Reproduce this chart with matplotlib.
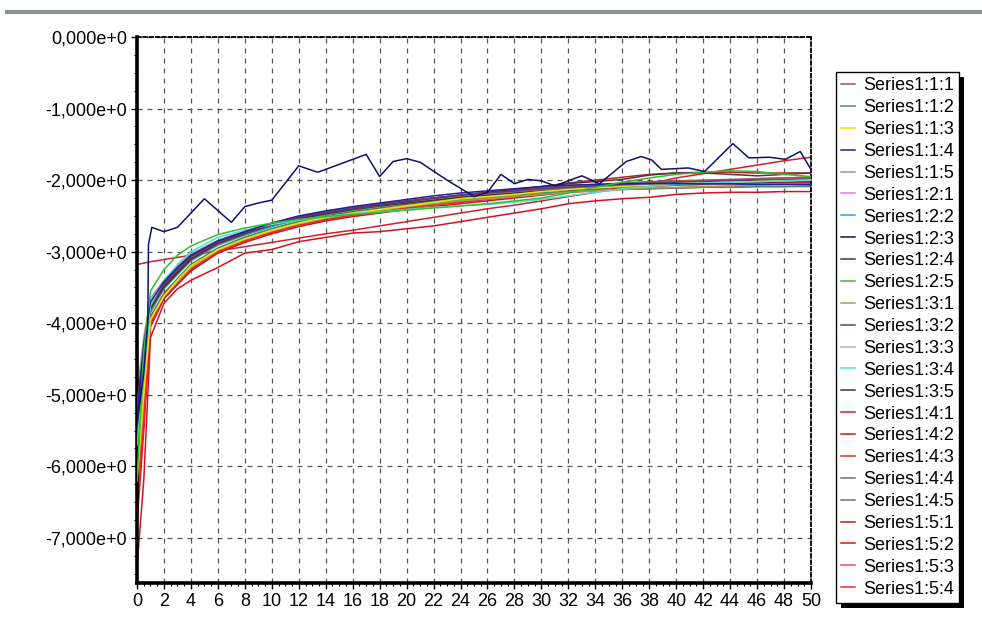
import numpy as np
import matplotlib
matplotlib.use("Agg")
import matplotlib.pyplot as plt
from matplotlib.ticker import FuncFormatter, MultipleLocator
from matplotlib.lines import Line2D
from matplotlib.patches import Rectangle
from matplotlib.transforms import IdentityTransform

plt.rcParams['font.family'] = ['Liberation Sans', 'DejaVu Sans']

# ---------------- data ----------------
x_common = [0, 0.5, 1, 2, 3, 4, 6, 8, 10, 12, 14, 16, 18, 20, 22, 24, 26, 28,
            30, 32, 34, 36, 38, 40, 42, 44, 46, 48, 50]

s_1_1 = [-5.2, -4.4, -3.75, -3.45, -3.25, -3.08, -2.88, -2.74, -2.62, -2.52, -2.45, -2.40, -2.35, -2.30, -2.26, -2.22, -2.19, -2.16, -2.13, -2.10, -2.08, -2.06, -2.04, -2.02, -2.01, -2.00, -1.99, -1.98, -1.97]
s_1_2 = [-5.8, -4.7, -3.90, -3.60, -3.38, -3.18, -2.95, -2.80, -2.68, -2.58, -2.51, -2.45, -2.40, -2.35, -2.31, -2.27, -2.24, -2.21, -2.18, -2.16, -2.14, -2.13, -2.12, -2.11, -2.10, -2.10, -2.09, -2.09, -2.09]
s_1_3 = [-6.2, -5.0, -3.95, -3.62, -3.40, -3.20, -2.97, -2.82, -2.70, -2.60, -2.52, -2.46, -2.41, -2.36, -2.31, -2.26, -2.23, -2.20, -2.16, -2.13, -2.11, -2.09, -2.07, -2.05, -2.04, -2.03, -2.02, -2.01, -2.00]
s_1_4 = [-5.3, -4.3, -3.70, -3.42, -3.22, -3.05, -2.85, -2.72, -2.60, -2.50, -2.43, -2.37, -2.32, -2.27, -2.22, -2.18, -2.15, -2.12, -2.09, -2.07, -2.06, -2.05, -2.05, -2.05, -2.05, -2.05, -2.06, -2.06, -2.06]
s_1_5 = [-5.0, -4.2, -3.65, -3.40, -3.20, -3.03, -2.84, -2.71, -2.60, -2.51, -2.44, -2.38, -2.33, -2.29, -2.25, -2.21, -2.18, -2.15, -2.12, -2.10, -2.08, -2.06, -2.04, -2.03, -2.02, -2.01, -2.00, -1.99, -1.98]
s_2_1 = [-5.4, -4.5, -3.80, -3.50, -3.30, -3.12, -2.90, -2.76, -2.64, -2.55, -2.47, -2.41, -2.36, -2.31, -2.27, -2.23, -2.20, -2.17, -2.14, -2.12, -2.10, -2.08, -2.06, -2.05, -2.04, -2.03, -2.02, -2.01, -2.00]
s_2_2 = [-5.6, -4.6, -3.85, -3.52, -3.32, -3.13, -2.91, -2.77, -2.65, -2.55, -2.48, -2.42, -2.37, -2.32, -2.28, -2.24, -2.21, -2.18, -2.15, -2.12, -2.10, -2.08, -2.06, -2.05, -2.04, -2.03, -2.02, -2.01, -2.00]
s_2_4 = [-5.5, -4.5, -3.80, -3.48, -3.28, -3.10, -2.88, -2.74, -2.62, -2.53, -2.46, -2.40, -2.35, -2.30, -2.25, -2.21, -2.17, -2.13, -2.09, -2.05, -2.02, -1.99, -1.93, -1.90, -1.90, -1.92, -1.94, -1.92, -1.90]
s_2_5 = [-6.2, -4.4, -3.55, -3.25, -3.05, -2.92, -2.76, -2.67, -2.60, -2.55, -2.51, -2.48, -2.45, -2.42, -2.39, -2.36, -2.33, -2.29, -2.25, -2.18, -2.10, -2.03, -1.97, -1.92, -1.89, -1.87, -1.88, -1.92, -1.95]
s_3_1 = [-5.9, -4.8, -3.95, -3.62, -3.42, -3.22, -2.98, -2.83, -2.71, -2.61, -2.53, -2.47, -2.42, -2.37, -2.33, -2.29, -2.26, -2.23, -2.20, -2.17, -2.15, -2.13, -2.11, -2.10, -2.09, -2.08, -2.07, -2.06, -2.05]
s_3_2 = [-5.1, -4.4, -3.75, -3.45, -3.25, -3.07, -2.86, -2.73, -2.61, -2.52, -2.45, -2.39, -2.34, -2.29, -2.25, -2.21, -2.18, -2.15, -2.12, -2.10, -2.08, -2.06, -2.04, -2.03, -2.02, -2.01, -2.00, -2.00, -1.99]
s_3_3 = [-5.3, -4.5, -3.78, -3.47, -3.27, -3.09, -2.88, -2.74, -2.62, -2.53, -2.46, -2.40, -2.35, -2.31, -2.27, -2.23, -2.20, -2.17, -2.14, -2.11, -2.09, -2.07, -2.05, -2.03, -2.02, -2.01, -2.00, -1.99, -1.99]
s_3_4 = [-5.7, -4.7, -3.75, -3.40, -3.18, -3.00, -2.80, -2.70, -2.62, -2.56, -2.51, -2.47, -2.44, -2.41, -2.38, -2.36, -2.34, -2.31, -2.27, -2.22, -2.17, -2.12, -2.09, -2.06, -2.04, -2.03, -2.02, -2.01, -2.00]
s_3_5 = [-5.4, -4.5, -3.80, -3.50, -3.30, -3.11, -2.89, -2.75, -2.63, -2.54, -2.47, -2.41, -2.36, -2.32, -2.28, -2.24, -2.21, -2.18, -2.15, -2.13, -2.11, -2.09, -2.07, -2.06, -2.05, -2.04, -2.03, -2.02, -2.01]
s_4_1 = [-3.18, -3.16, -3.14, -3.11, -3.08, -3.05, -2.99, -2.93, -2.87, -2.81, -2.75, -2.70, -2.64, -2.58, -2.52, -2.46, -2.40, -2.35, -2.29, -2.23, -2.17, -2.12, -2.05, -1.97, -1.91, -1.85, -1.79, -1.73, -1.68]
s_4_2 = [-7.40, -6.2, -4.20, -3.72, -3.52, -3.40, -3.22, -3.02, -2.97, -2.86, -2.80, -2.74, -2.72, -2.68, -2.64, -2.58, -2.52, -2.46, -2.40, -2.33, -2.29, -2.26, -2.24, -2.20, -2.18, -2.17, -2.17, -2.16, -2.16]
s_4_3 = [-6.5, -5.2, -4.00, -3.65, -3.45, -3.25, -3.00, -2.85, -2.73, -2.63, -2.55, -2.49, -2.44, -2.39, -2.35, -2.31, -2.27, -2.23, -2.19, -2.15, -2.12, -2.09, -2.06, -2.04, -2.02, -2.00, -1.98, -1.97, -1.96]
s_4_4 = [-5.2, -4.4, -3.72, -3.44, -3.24, -3.06, -2.86, -2.72, -2.61, -2.52, -2.45, -2.39, -2.34, -2.29, -2.25, -2.21, -2.17, -2.14, -2.11, -2.08, -2.06, -2.04, -2.02, -2.01, -2.00, -1.99, -1.98, -1.97, -1.96]
s_4_5 = [-5.6, -4.6, -3.82, -3.50, -3.30, -3.11, -2.90, -2.76, -2.64, -2.55, -2.48, -2.42, -2.37, -2.32, -2.28, -2.24, -2.21, -2.18, -2.15, -2.12, -2.10, -2.08, -2.06, -2.04, -2.03, -2.02, -2.01, -2.00, -1.99]
s_5_1 = [-6.0, -4.9, -3.92, -3.58, -3.38, -3.18, -2.95, -2.80, -2.68, -2.58, -2.50, -2.44, -2.39, -2.34, -2.29, -2.24, -2.19, -2.14, -2.09, -2.04, -2.00, -1.96, -1.92, -1.90, -1.89, -1.89, -1.90, -1.90, -1.90]
s_5_2 = [-6.8, -5.5, -4.05, -3.66, -3.46, -3.27, -3.02, -2.87, -2.75, -2.65, -2.57, -2.51, -2.46, -2.41, -2.37, -2.33, -2.29, -2.25, -2.21, -2.17, -2.14, -2.11, -2.09, -2.07, -2.06, -2.05, -2.04, -2.03, -2.03]
s_5_3 = [-6.3, -5.1, -3.98, -3.60, -3.40, -3.20, -2.97, -2.82, -2.70, -2.60, -2.52, -2.46, -2.41, -2.36, -2.32, -2.28, -2.24, -2.20, -2.16, -2.13, -2.11, -2.09, -2.08, -2.07, -2.06, -2.06, -2.06, -2.05, -2.05]
s_5_4 = [-6.6, -5.4, -4.02, -3.64, -3.43, -3.24, -3.00, -2.85, -2.73, -2.63, -2.55, -2.49, -2.44, -2.39, -2.34, -2.30, -2.26, -2.23, -2.20, -2.17, -2.15, -2.13, -2.12, -2.11, -2.10, -2.10, -2.09, -2.09, -2.08]

# noisy navy series (own x positions)
x_2_3 = [0, 0.5, 0.8, 0.85, 1.1, 2, 3, 5, 7, 8, 9, 10, 12, 13.4, 14, 17, 18, 19,
         20, 21, 23, 25, 26, 27, 28, 29, 30, 31, 33, 34.3, 36.3, 37.4, 38.2,
         38.9, 40.9, 42.1, 44.2, 45.4, 46.9, 48.1, 49.2, 50]
s_2_3 = [-5.4, -4.7, -4.0, -2.9, -2.66, -2.72, -2.66, -2.26, -2.59, -2.37, -2.32,
         -2.28, -1.80, -1.89, -1.85, -1.64, -1.95, -1.74, -1.70, -1.75, -2.00,
         -2.23, -2.17, -1.92, -2.05, -1.99, -2.01, -2.08, -1.94, -2.05, -1.74,
         -1.67, -1.72, -1.85, -1.83, -1.88, -1.49, -1.69, -1.68, -1.71, -1.60, -1.85]

labels = ["Series1:1:1", "Series1:1:2", "Series1:1:3", "Series1:1:4", "Series1:1:5",
          "Series1:2:1", "Series1:2:2", "Series1:2:3", "Series1:2:4", "Series1:2:5",
          "Series1:3:1", "Series1:3:2", "Series1:3:3", "Series1:3:4", "Series1:3:5",
          "Series1:4:1", "Series1:4:2", "Series1:4:3", "Series1:4:4", "Series1:4:5",
          "Series1:5:1", "Series1:5:2", "Series1:5:3", "Series1:5:4"]
colors = ["#a8506c", "#4a8a78", "#e8e800", "#2020a0", "#9a9a9a",
          "#e080e0", "#30a8a8", "#101070", "#6a2a3a", "#30c030",
          "#a0a050", "#603878", "#b8b8b8", "#50e0d0", "#383838",
          "#d02030", "#d81020", "#d03838", "#806868", "#786878",
          "#a82828", "#d81020", "#e05858", "#e82828"]
layer = [2.6, 2.5, 2.7, 2.8, 2.4, 2.5, 2.5, 3.0, 2.6, 2.9,
         2.5, 2.6, 2.4, 2.7, 2.5, 2.3, 2.3, 2.2, 2.4, 2.4,
         2.2, 2.2, 2.2, 2.2]

series_x = [x_common] * 7 + [x_2_3] + [x_common] * 16
series_y = [s_1_1, s_1_2, s_1_3, s_1_4, s_1_5, s_2_1, s_2_2, s_2_3, s_2_4, s_2_5,
            s_3_1, s_3_2, s_3_3, s_3_4, s_3_5, s_4_1, s_4_2, s_4_3, s_4_4, s_4_5,
            s_5_1, s_5_2, s_5_3, s_5_4]

# ---------------- figure ----------------
W, H = 982, 629
fig = plt.figure(figsize=(W / 100, H / 100), dpi=100)
ax = fig.add_axes([137 / W, 1 - 583 / H, (811 - 137) / W, (583 - 37) / H])

for xs, ys, c, lab, z in zip(series_x, series_y, colors, labels, layer):
    ax.plot(xs, ys, color=c, lw=1.1, label=lab, zorder=z)

ax.set_xlim(0, 50)
ax.set_ylim(-7.63, 0)
ax.set_xticks(np.arange(0, 51, 2))
ax.set_yticks(np.arange(-7, 1, 1))
ax.xaxis.set_minor_locator(MultipleLocator(0.5))
ax.yaxis.set_minor_locator(MultipleLocator(0.25))

def yfmt(v, p):
    if abs(v) < 1e-9:
        v = 0.0
    return f"{v:.3f}".replace('.', ',') + "e+0"

ax.yaxis.set_major_formatter(FuncFormatter(yfmt))
ax.tick_params(axis='both', which='major', labelsize=13, length=4, width=1,
               direction='out', color='black', pad=3)
ax.tick_params(axis='both', which='minor', length=2.5, width=0.8, direction='out')

ax.grid(True, which='major', linestyle=(0, (4, 4)), color='#555555', lw=0.9)
ax.set_axisbelow(True)

for side in ['left', 'bottom']:
    ax.spines[side].set_linewidth(2.6)
    ax.spines[side].set_color('black')
for side in ['top', 'right']:
    ax.spines[side].set_linewidth(1.3)
    ax.spines[side].set_linestyle((0, (2, 1.5)))
    ax.spines[side].set_color('black')

leg = fig.legend(loc='upper left', bbox_to_anchor=(836 / W, 1 - 72 / H),
                 fontsize=13, frameon=True, fancybox=False, edgecolor='black',
                 framealpha=1, handlelength=0.75, handletextpad=0.45,
                 labelspacing=0.27, borderpad=0.3, borderaxespad=0)
leg.get_frame().set_linewidth(1.0)
leg.set_zorder(10)

# top decorative gray line
fig.add_artist(Line2D([7 / W, 1.0], [1 - 12 / H, 1 - 12 / H], color='#8a9299', lw=3))

# legend shadow
fig.canvas.draw()
bb = leg.get_window_extent()
shadow = Rectangle((bb.x0 + 5, bb.y0 - 5), bb.width, bb.height,
                   transform=IdentityTransform(), facecolor='black',
                   edgecolor='none', zorder=9)
fig.add_artist(shadow)

fig.savefig("out.png", dpi=100)
